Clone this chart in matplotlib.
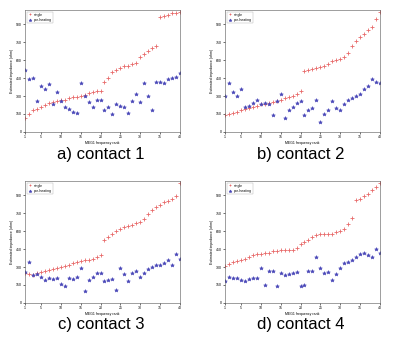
import numpy as np
import matplotlib.pyplot as plt

plt.rcParams['font.family'] = ['Liberation Sans', 'DejaVu Sans']

captions = ['a) contact 1', 'b) contact 2', 'c) contact 3', 'd) contact 4']
legend_labels = ['single', 'pre-heating']
x_label = 'MEG1 frequency rank'
y_label = 'Estimated impedance (ohm)'

# red series (sorted), blue series, per contact
red_a = [12, 15, 18, 19.5, 21, 22.5, 24, 25, 25.5, 26.5, 27, 28, 29, 29.5, 30, 31, 32.5, 33.5, 34, 34,
         42, 45, 50, 52, 53, 55, 55.5, 57, 58, 63, 65, 68, 70, 72, 96, 97, 98, 99, 99.5, 100]
blue_a = [52, 44, 45, 26, 38, 36, 40, 23, 33, 26, 21, 19, 17, 16, 41, 30, 25, 21, 27, 27,
          18, 21, 15, 23, 22, 21, 16, 26, 32, 25, 41, 30, 18, 42, 42, 41, 44, 45, 46, 49]
red_b = [14.5, 15, 15.5, 17, 18, 19, 20, 21, 22, 23, 23, 24, 25, 26, 27, 28, 29, 30, 32, 34,
         51, 52, 52.5, 53, 54, 55, 57, 59, 60, 61, 63, 66, 72, 76, 79, 82, 85, 88, 94, 100]
blue_b = [30, 41, 33, 30, 36, 21, 22, 24, 27, 23, 24, 23, 14, 26, 32, 12, 18, 21, 24, 26,
          14, 18, 20, 27, 8, 15, 18, 26, 20, 18, 23, 27, 28, 30, 32, 36, 38, 44, 42, 41]
red_c = [25, 24, 23, 25, 26, 27, 27.5, 28.5, 29, 30, 31, 32, 33, 34, 35, 36, 36, 37, 38, 40,
         53, 55, 58, 60, 62, 63.5, 64, 65, 67, 68, 70, 74, 78, 80, 82, 84, 85, 87, 89, 100]
blue_c = [26, 34, 23, 24, 22, 19, 21, 20, 21, 16, 14, 21, 20, 22, 29, 10, 19, 22, 25, 25,
          18, 19, 20, 11, 29, 24, 18, 25, 27, 22, 25, 28, 30, 32, 32, 33, 36, 32, 41, 37]
red_d = [31, 32.5, 34, 35, 36, 37, 38.5, 40, 40.5, 41, 41.5, 42, 43, 43.5, 44, 44, 44, 44.5, 46, 49,
         51, 53, 55, 57, 58, 58, 58, 58, 59, 60, 62, 66, 71, 86, 87, 89, 91, 94, 97, 100]
blue_d = [18, 22, 21, 21, 19, 18, 20, 21, 21, 29, 15, 27, 27, 14, 25, 23, 24, 25, 26, 14,
          15, 27, 27, 38, 29, 25, 26, 19, 24, 29, 33, 34, 36, 38, 41, 42, 40, 38, 45, 42]

reds = [red_a, red_b, red_c, red_d]
blues = [blue_a, blue_b, blue_c, blue_d]
rank = np.arange(1, 41)

fig = plt.figure(figsize=(4, 3.4), dpi=100)
boxes = [(0.0625, 0.612), (0.5625, 0.612), (0.0625, 0.109), (0.5625, 0.109)]
cap_y = [0.545, 0.545, 0.045, 0.045]

for i in range(4):
    ax = fig.add_axes([boxes[i][0], boxes[i][1], 0.3875, 0.359])
    ax.plot(rank, reds[i], '+', color='#e86a6a', ms=2.6, mew=0.6, label=legend_labels[0])
    ax.plot(rank, blues[i], '*', color='#4a48b8', ms=2.8, mew=0.4, label=legend_labels[1])
    ax.set_xlim(1, 40)
    ax.set_ylim(0, 102)
    ax.set_xticks([1, 5, 10, 15, 20, 25, 30, 35, 40])
    ax.set_yticks(range(0, 101, 15))
    ax.set_yticklabels([str(v * 10) for v in range(0, 101, 15)])
    ax.tick_params(labelsize=2.5, length=1.5, width=0.4, pad=1)
    for s in ax.spines.values():
        s.set_linewidth(0.4)
        s.set_color('#555555')
    ax.set_xlabel(x_label, fontsize=2.5, labelpad=1)
    ax.set_ylabel(y_label, fontsize=2.5, labelpad=1)
    ax.legend(loc='upper left', fontsize=2.5, frameon=True, markerscale=0.8,
              borderpad=0.3, handlelength=1, fancybox=False, edgecolor='#999999').get_frame().set_linewidth(0.3)
    fig.text(boxes[i][0] + 0.19, cap_y[i], captions[i], ha='center', va='center', fontsize=12)

plt.savefig('out.png', dpi=100)
